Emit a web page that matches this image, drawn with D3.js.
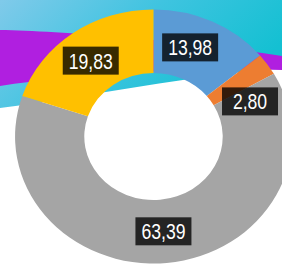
<!DOCTYPE html>
<html>
<head>
<meta charset="utf-8">
<script src="https://cdn.jsdelivr.net/npm/d3@7"></script>
<style>
  html, body { margin: 0; padding: 0; background: #fff; overflow: hidden; }
  svg { display: block; }
</style>
</head>
<body>
<div id="chart"></div>
<script>
// --- Data ---
const categories = ['A', 'B', 'C', 'D'];
const values = [13.98, 2.80, 63.39, 19.83];
const labels = ['13,98', '2,80', '63,39', '19,83'];
const colors = ['#5b9bd5', '#ed7d31', '#a5a5a5', '#ffc000'];

// --- Layout ---
const W = 282, H = 266;
const cx = 153.5, cy = 136.5;
const rOuter = 127, rInner = 63.5;
const stretchX = 1.09;               // source picture is a bit wider than tall
const labelNudge = { A: -4.5, B: 13, C: 0, D: -1.5 };   // degrees, label placement tweaks

const svg = d3.select('#chart').append('svg')
    .attr('width', W)
    .attr('height', H);

// --- Decorative background swoosh ---
const defs = svg.append('defs');
const sky = defs.append('linearGradient')
    .attr('id', 'sky')
    .attr('x1', '0').attr('y1', '0').attr('x2', '1').attr('y2', '0.4');
sky.append('stop').attr('offset', '0%').attr('stop-color', '#80caea');
sky.append('stop').attr('offset', '50%').attr('stop-color', '#3fc4e0');
sky.append('stop').attr('offset', '100%').attr('stop-color', '#14c0d2');

svg.append('path')
    .attr('d', 'M0,0 H282 V68 C200,74 80,98 0,108 Z')
    .attr('fill', 'url(#sky)');

svg.append('path')
    .attr('d', 'M0,30 C60,31 180,40 282,56 L282,70 C200,68 90,72 0,86 Z')
    .attr('fill', '#b01fe0');

// --- Donut ---
const pie = d3.pie().sort(null).value(d => d)(values);
const arc = d3.arc().innerRadius(rInner).outerRadius(rOuter);

const g = svg.append('g')
    .attr('transform', `translate(${cx},${cy}) scale(${stretchX},1)`);

g.selectAll('path.slice')
    .data(pie)
    .join('path')
    .attr('class', 'slice')
    .attr('d', arc)
    .attr('fill', (d, i) => colors[i]);

// --- Labels ---
const rMid = (rInner + rOuter) / 2;
const lg = svg.append('g').attr('transform', `translate(${cx},${cy})`);

const lab = lg.selectAll('g.lab')
    .data(pie)
    .join('g')
    .attr('class', 'lab')
    .attr('transform', (d, i) => {
        const a = (d.startAngle + d.endAngle) / 2 + labelNudge[categories[i]] * Math.PI / 180;
        const x = Math.sin(a) * rMid * stretchX;
        const y = -Math.cos(a) * rMid;
        return `translate(${x},${y})`;
    });

lab.append('rect')
    .attr('x', -28).attr('y', -14)
    .attr('width', 56).attr('height', 28)
    .attr('fill', '#000')
    .attr('fill-opacity', 0.78);

// narrow face is not installed, so squeeze a regular sans
lab.append('text')
    .attr('text-anchor', 'middle')
    .attr('dy', '0.36em')
    .attr('transform', 'scale(0.8,1)')
    .attr('font-family', '"Liberation Sans", Arial, sans-serif')
    .attr('font-size', 22)
    .attr('fill', '#fff')
    .text((d, i) => labels[i]);
</script>
</body>
</html>
